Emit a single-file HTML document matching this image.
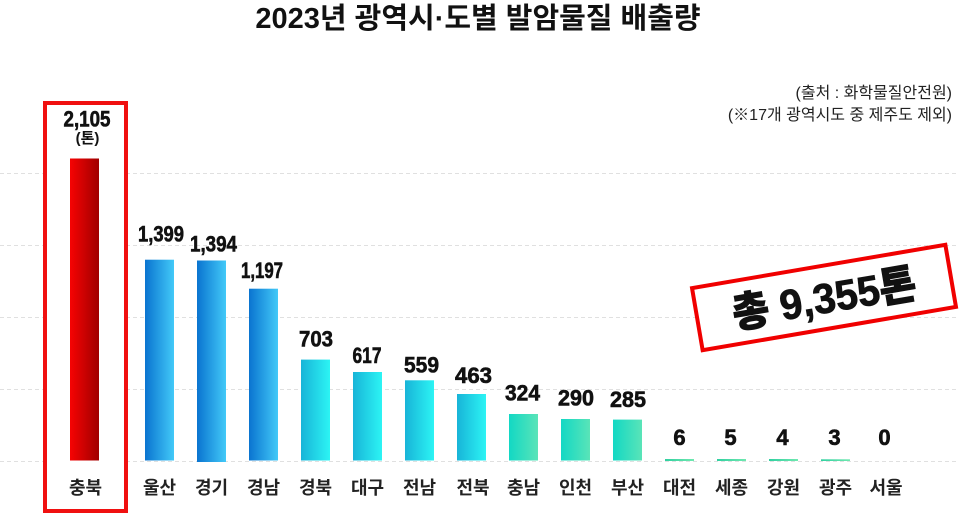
<!DOCTYPE html>
<html>
<head>
<meta charset="utf-8">
<style>
html,body{margin:0;padding:0;background:#fff;}
body{width:960px;height:514px;overflow:hidden;}
svg{display:block;}
.t{font-family:"Liberation Sans","Noto Sans CJK KR",sans-serif;}
.num{font-family:"Liberation Sans","Noto Sans CJK KR",sans-serif;font-weight:700;font-size:22px;fill:#111;stroke:#111;stroke-width:0.6;text-anchor:middle;}
.lab{font-family:"Liberation Sans","Noto Sans CJK KR",sans-serif;font-weight:700;font-size:18px;fill:#222;text-anchor:middle;}
</style>
</head>
<body>
<svg width="960" height="514" viewBox="0 0 960 514" xmlns="http://www.w3.org/2000/svg">
<defs>
<linearGradient id="gr" x1="0" x2="1" y1="0" y2="0"><stop offset="0" stop-color="#f60303"/><stop offset="1" stop-color="#a00000"/></linearGradient>
<linearGradient id="gb" x1="0" x2="1" y1="0" y2="0"><stop offset="0" stop-color="#0a74d0"/><stop offset="1" stop-color="#42c9f8"/></linearGradient>
<linearGradient id="gc" x1="0" x2="1" y1="0" y2="0"><stop offset="0" stop-color="#18b4d8"/><stop offset="1" stop-color="#2cf4f4"/></linearGradient>
<linearGradient id="gt" x1="0" x2="1" y1="0" y2="0"><stop offset="0" stop-color="#12d8c4"/><stop offset="1" stop-color="#5ae4b8"/></linearGradient>
<linearGradient id="gg" x1="0" x2="1" y1="0" y2="0"><stop offset="0" stop-color="#30d0a0"/><stop offset="1" stop-color="#70e8b0"/></linearGradient>
</defs>

<!-- title -->
<text class="t" x="478" y="28" font-size="29" font-weight="700" fill="#111" text-anchor="middle">2023년 광역시·도별 발암물질 배출량</text>

<!-- source -->
<text class="t" x="952" y="98" font-size="16" fill="#222" text-anchor="end">(출처 : 화학물질안전원)</text>
<text class="t" x="952" y="120" font-size="16" fill="#222" text-anchor="end">(※17개 광역시도 중 제주도 제외)</text>

<!-- gridlines -->
<g stroke="#e0e0e0" stroke-width="1" stroke-dasharray="4 3">
<line x1="0" x2="956" y1="173.5" y2="173.5"/>
<line x1="0" x2="956" y1="245.5" y2="245.5"/>
<line x1="0" x2="956" y1="317.5" y2="317.5"/>
<line x1="0" x2="956" y1="389.5" y2="389.5"/>
<line x1="0" x2="956" y1="461.5" y2="461.5"/>
</g>

<!-- highlight box -->
<rect x="45" y="103" width="81" height="408" fill="#fff" stroke="#f01010" stroke-width="4"/>

<!-- bars -->
<rect x="70" y="158.5" width="29" height="302" fill="url(#gr)"/>
<rect x="145" y="259.7" width="29" height="200.8" fill="url(#gb)"/>
<rect x="197" y="260.5" width="29" height="201.5" fill="url(#gb)"/>
<rect x="249" y="288.7" width="29" height="171.8" fill="url(#gb)"/>
<rect x="301" y="359.6" width="29" height="100.9" fill="url(#gc)"/>
<rect x="353" y="372" width="29" height="88.5" fill="url(#gc)"/>
<rect x="405" y="380.3" width="29" height="80.2" fill="url(#gc)"/>
<rect x="457" y="394" width="29" height="66.5" fill="url(#gc)"/>
<rect x="509" y="414" width="29" height="46.5" fill="url(#gt)"/>
<rect x="561" y="419" width="29" height="41.5" fill="url(#gt)"/>
<rect x="613" y="419.6" width="29" height="40.9" fill="url(#gt)"/>
<rect x="665" y="459" width="29" height="2" fill="url(#gg)"/>
<rect x="717" y="459" width="29" height="2" fill="url(#gg)"/>
<rect x="769" y="459" width="29" height="2" fill="url(#gg)"/>
<rect x="821" y="459.3" width="29" height="1.7" fill="url(#gg)"/>

<!-- value labels -->
<text class="num" x="87" y="126.5" font-size="20" textLength="47" lengthAdjust="spacingAndGlyphs">2,105</text>
<text class="t" x="87.5" y="143" font-size="15" font-weight="700" fill="#111" text-anchor="middle">(톤)</text>
<text class="num" x="161" y="241.5" textLength="46" lengthAdjust="spacingAndGlyphs">1,399</text>
<text class="num" x="213.5" y="251.5" textLength="47" lengthAdjust="spacingAndGlyphs">1,394</text>
<text class="num" x="262" y="278" textLength="42" lengthAdjust="spacingAndGlyphs">1,197</text>
<text class="num" x="316" y="346.7" textLength="34" lengthAdjust="spacingAndGlyphs">703</text>
<text class="num" x="367" y="363" textLength="29" lengthAdjust="spacingAndGlyphs">617</text>
<text class="num" x="421.5" y="372.5" textLength="35" lengthAdjust="spacingAndGlyphs">559</text>
<text class="num" x="473.5" y="383" textLength="37" lengthAdjust="spacingAndGlyphs">463</text>
<text class="num" x="522.5" y="400.7" textLength="35" lengthAdjust="spacingAndGlyphs">324</text>
<text class="num" x="576" y="405.7" textLength="36" lengthAdjust="spacingAndGlyphs">290</text>
<text class="num" x="628" y="407" textLength="36" lengthAdjust="spacingAndGlyphs">285</text>
<text class="num" x="679.5" y="445">6</text>
<text class="num" x="730.5" y="445">5</text>
<text class="num" x="782.5" y="445">4</text>
<text class="num" x="834.5" y="445">3</text>
<text class="num" x="884.5" y="445">0</text>

<!-- x labels -->
<text class="lab" x="85.5" y="494">충북</text>
<text class="lab" x="159.5" y="494">울산</text>
<text class="lab" x="211.5" y="494">경기</text>
<text class="lab" x="263.5" y="494">경남</text>
<text class="lab" x="315.5" y="494">경북</text>
<text class="lab" x="367.5" y="494">대구</text>
<text class="lab" x="419.5" y="494">전남</text>
<text class="lab" x="473" y="494">전북</text>
<text class="lab" x="523.5" y="494">충남</text>
<text class="lab" x="575.5" y="494">인천</text>
<text class="lab" x="627.5" y="494">부산</text>
<text class="lab" x="679.5" y="494">대전</text>
<text class="lab" x="731.5" y="494">세종</text>
<text class="lab" x="783.5" y="494">강원</text>
<text class="lab" x="835.5" y="494">광주</text>
<text class="lab" x="886" y="494">서울</text>

<!-- total box -->
<g transform="rotate(-9.7 824 297.5)">
<rect x="695.5" y="266" width="257" height="63" fill="#fff" stroke="#f00000" stroke-width="4"/>
<text class="t" x="824" y="313" font-size="42" font-weight="900" fill="#111" stroke="#111" stroke-width="0.8" text-anchor="middle" textLength="186" lengthAdjust="spacingAndGlyphs">총 9,355톤</text>
</g>
</svg>
</body>
</html>
